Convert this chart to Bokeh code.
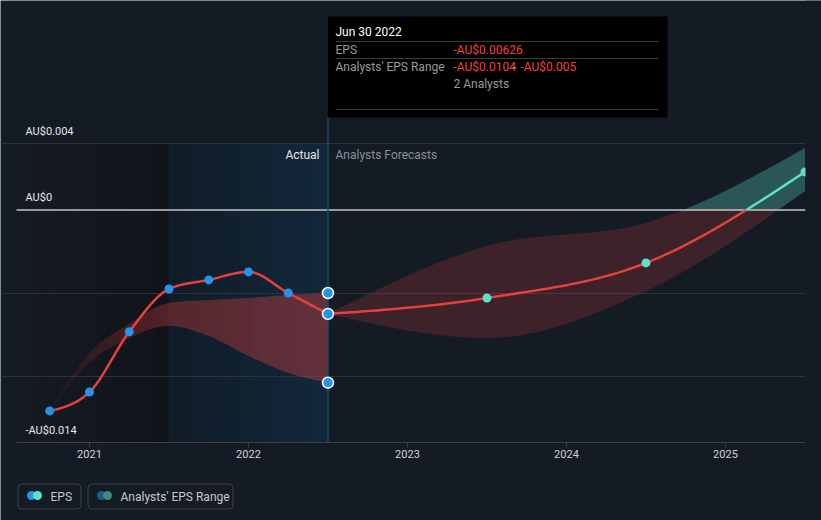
import numpy as np
from bokeh.plotting import figure
from bokeh.models import Range1d, FixedTicker, Label
from bokeh.core.properties import value
from bokeh.embed import file_html
from bokeh.resources import INLINE

# ---------------- data ----------------
actual_dates = [2020.75, 2021.0, 2021.25, 2021.5, 2021.75, 2022.0, 2022.25, 2022.5]
actual_eps = [-0.0121, -0.01096, -0.00734, -0.00476, -0.00421, -0.00373, -0.005, -0.00626]
actual_range_high = [-0.0121, -0.00861, -0.00686, -0.0056, -0.00542, -0.0053, -0.00512, -0.005]
actual_range_low = [-0.0121, -0.00921, -0.00771, -0.00698, -0.00759, -0.00879, -0.00981, -0.0104]

forecast_dates = [2022.5, 2023.5, 2024.5, 2025.5]
forecast_eps = [-0.00626, -0.0053, -0.00319, 0.00229]
forecast_high = [-0.00626, -0.00217, -0.00078, 0.00373]
forecast_low = [-0.00626, -0.00771, -0.00488, 0.00114]

year_ticks = [2021, 2022, 2023, 2024, 2025]
year_labels = ["2021", "2022", "2023", "2024", "2025"]
y_label_values = [0.004, 0.0, -0.014]
y_labels = ["AU$0.004", "AU$0", "-AU$0.014"]
grid_values = [0.004, -0.005, -0.01]
legend_labels = ["EPS", "Analysts' EPS Range"]

chart_start = 2020.541
chart_end = 2025.503
today = 2022.5
actual_start = 2021.5
y_min = -0.014
y_max = 0.004

# ---------------- geometry (page px <-> data) ----------------
W, H = 821, 520
PX_PER_YEAR = 159.0
PX_PER_UNIT = 16611.0
LEFT_PX, BOTTOM_PX = 16, 442


def dx(px):
    return chart_start + (px - LEFT_PX) / PX_PER_YEAR


def dy(py):
    return y_min + (BOTTOM_PX - py) / PX_PER_UNIT


def monotone(xs, ys, n=40):
    xs = np.asarray(xs, float)
    ys = np.asarray(ys, float)
    h = np.diff(xs)
    s = np.diff(ys) / h
    m = np.zeros(len(xs))
    for k in range(1, len(xs) - 1):
        p_ = (s[k - 1] * h[k] + s[k] * h[k - 1]) / (h[k - 1] + h[k])
        m[k] = (np.sign(s[k - 1]) + np.sign(s[k])) * min(abs(s[k - 1]), abs(s[k]), 0.5 * abs(p_))
    if len(xs) > 2:
        m[0] = (3 * s[0] - m[1]) / 2
        m[-1] = (3 * s[-1] - m[-2]) / 2
    else:
        m[0] = m[-1] = s[0]
    ox, oy = [], []
    for k in range(len(xs) - 1):
        t = np.linspace(0, 1, n, endpoint=(k == len(xs) - 2))
        h00 = 2 * t**3 - 3 * t**2 + 1
        h10 = t**3 - 2 * t**2 + t
        h01 = -2 * t**3 + 3 * t**2
        h11 = t**3 - t**2
        oy.append(h00 * ys[k] + h10 * h[k] * m[k] + h01 * ys[k + 1] + h11 * h[k] * m[k + 1])
        ox.append(xs[k] + t * h[k])
    return np.concatenate(ox), np.concatenate(oy)


def lerp_hex(c1, c2, t):
    a = [int(c1[i:i + 2], 16) for i in (1, 3, 5)]
    b = [int(c2[i:i + 2], 16) for i in (1, 3, 5)]
    return "#%02x%02x%02x" % tuple(int(round(a[i] + (b[i] - a[i]) * t)) for i in range(3))


BG = "#151b25"
RED = "#e5413f"
TEAL = "#5ce0c6"
BLUE = "#2494e8"
AXIS = "#3a404a"
FONT = "Roboto"

p = figure(width=W, height=H, x_range=Range1d(dx(0), dx(W)), y_range=Range1d(dy(H), dy(0)),
           output_backend="svg", toolbar_location=None, x_axis_location=None, y_axis_location=None,
           min_border=0, background_fill_color=BG, border_fill_color=BG, outline_line_color=None)
p.xgrid.visible = False
p.ygrid.ticker = FixedTicker(ticks=grid_values)
p.ygrid.grid_line_color = "#2c323c"
p.ygrid.bounds = (chart_start, chart_end)

# ---------------- background shading ----------------
N = 30
edges = np.linspace(chart_start, actual_start, N + 1)
cols = [lerp_hex("#161a23", "#11141b", i / (N - 1)) for i in range(N)]
p.quad(left=edges[:-1], right=edges[1:], top=y_max, bottom=y_min,
       fill_color=cols, line_color=cols, line_width=1, level="image")
edges = np.linspace(actual_start, today, N + 1)
cols = [lerp_hex("#121c28", "#12283b", i / (N - 1)) for i in range(N)]
p.quad(left=edges[:-1], right=edges[1:], top=y_max, bottom=y_min,
       fill_color=cols, line_color=cols, line_width=1, level="image")

# ---------------- actual analysts' range (gradient band) ----------------
bx, bhi = monotone(actual_dates, actual_range_high)
_, blo = monotone(actual_dates, actual_range_low)
step = 10
xs_list, ys_list, alphas = [], [], []
for i in range(0, len(bx) - 1, step):
    j = min(i + step, len(bx) - 1)
    seg_x = list(bx[i:j + 1])
    xs_list.append(seg_x + seg_x[::-1])
    ys_list.append(list(bhi[i:j + 1]) + list(blo[i:j + 1])[::-1])
    xm = 0.5 * (bx[i] + bx[j])
    t = min(1.0, (xm - actual_dates[0]) / (actual_start - actual_dates[0]))
    a = 0.05 + 0.28 * t
    if xm > actual_start:
        a += 0.06 * (xm - actual_start) / (today - actual_start)
    alphas.append(a)
p.patches(xs=xs_list, ys=ys_list, fill_color=RED, fill_alpha=alphas, line_color=None)

# ---------------- forecast range ----------------
fx, fhi = monotone(forecast_dates, forecast_high)
_, flo = monotone(forecast_dates, forecast_low)
p.varea(x=fx, y1=np.minimum(flo, 0), y2=np.minimum(fhi, 0), fill_color=RED, fill_alpha=0.2)
p.varea(x=fx, y1=np.maximum(flo, 0), y2=np.maximum(fhi, 0), fill_color=TEAL, fill_alpha=0.3)

# zero line
p.segment(x0=[chart_start], x1=[chart_end], y0=[0.0], y1=[0.0], line_color="#c4c4c4", line_width=1.5)

# ---------------- EPS lines ----------------
ax, ay = monotone(actual_dates, actual_eps)
p.line(ax, ay, line_color=RED, line_width=2.5)

ex, ey = monotone(forecast_dates, forecast_eps)
k = int(np.argmax(ey > 0))
xc = ex[k - 1] + (0 - ey[k - 1]) * (ex[k] - ex[k - 1]) / (ey[k] - ey[k - 1])
p.line(list(ex[:k]) + [xc], list(ey[:k]) + [0.0], line_color=RED, line_width=2.5)
p.line([xc] + list(ex[k:]), [0.0] + list(ey[k:]), line_color=TEAL, line_width=2.5)

# cursor line
p.segment(x0=[today], x1=[today], y0=[dy(117)], y1=[y_min], line_color="#1f4868", line_width=1.5)

# markers (clipped at the chart edge like the original)
p.scatter(actual_dates[:-1], actual_eps[:-1], size=9, fill_color=BLUE, line_color=None)
p.scatter(forecast_dates[1:], forecast_eps[1:], size=9, fill_color=TEAL, line_color=None)
p.scatter([today, today, today], [actual_eps[-1], actual_range_high[-1], actual_range_low[-1]],
          size=11, fill_color=BLUE, line_color="white", line_width=1.5)
# hide the part of the last marker beyond the chart's right edge
p.quad(left=[chart_end], right=[dx(W)], top=[dy(0)], bottom=[dy(H)], fill_color=BG, line_color=None)

# ---------------- x axis (drawn with the plot's scale) ----------------
p.segment(x0=[chart_start], x1=[chart_end], y0=[y_min], y1=[y_min], line_color=AXIS, line_width=1)
p.segment(x0=year_ticks, x1=year_ticks, y0=[y_min] * len(year_ticks),
          y1=[y_min - 5 / PX_PER_UNIT] * len(year_ticks), line_color=AXIS, line_width=1)
p.text(x=year_ticks, y=[y_min - 11.5 / PX_PER_UNIT] * len(year_ticks), text=year_labels,
       text_align="center", text_baseline="middle", text_color="#d2d2d2",
       text_font=value(FONT), text_font_size="11px")

# ---------------- y labels ----------------
p.text(x=[dx(25)] * len(y_labels), y=[v + 12.5 / PX_PER_UNIT for v in y_label_values], text=y_labels,
       text_baseline="middle", text_color="#e6e6e6", text_font=value(FONT), text_font_size="11px")

p.add_layout(Label(x=dx(319), y=dy(154), text="Actual", text_align="right", text_baseline="middle",
                   text_color="#e6e6e6", text_font=FONT, text_font_size="12px"))
p.add_layout(Label(x=dx(335), y=dy(154), text="Analysts Forecasts", text_baseline="middle",
                   text_color="#8a8f98", text_font=FONT, text_font_size="12px"))

# ---------------- tooltip ----------------
p.quad(left=[today], right=[dx(667)], top=[dy(16)], bottom=[dy(117)], fill_color="black", line_color=None)
p.segment(x0=[dx(335)] * 3, x1=[dx(658)] * 3, y0=[dy(41), dy(58), dy(109)], y1=[dy(41), dy(58), dy(109)],
          line_color="#3a3a3a", line_width=1)
tips = [
    (335, 31, "Jun 30 2022", "#ffffff"),
    (335, 49, "EPS", "#9a9a9a"),
    (453, 49, "-AU$0.00626", "#f0433f"),
    (335, 66, "Analysts' EPS Range", "#9a9a9a"),
    (453, 66, "-AU$0.0104", "#f0433f"),
    (512, 66, "-", "#9a9a9a"),
    (520, 66, "-AU$0.005", "#f0433f"),
    (453, 83, "2 Analysts", "#9a9a9a"),
]
for px, py, t, c in tips:
    p.add_layout(Label(x=dx(px), y=dy(py), text=t, text_baseline="middle", text_color=c,
                       text_font=FONT, text_font_size="12px"))

# ---------------- legend ----------------
p.quad(left=[dx(17.5), dx(87.5)], right=[dx(80.5), dx(232.5)], top=[dy(483.5)] * 2,
       bottom=[dy(508.5)] * 2, fill_color=None, line_color=AXIS, line_width=1, border_radius=4)
p.scatter([dx(31), dx(101)], [dy(495)] * 2, size=9, fill_color=[BLUE, "#1f5a85"], line_color=None)
p.scatter([dx(37), dx(107)], [dy(495)] * 2, size=9, fill_color=[TEAL, "#3e8a80"], line_color=None)
p.text(x=[dx(50), dx(120)], y=[dy(496)] * 2, text=legend_labels, text_baseline="middle",
       text_color="#c8c8c8", text_font=value(FONT), text_font_size="12px")

open("out.html", "w").write(file_html(p, INLINE))
